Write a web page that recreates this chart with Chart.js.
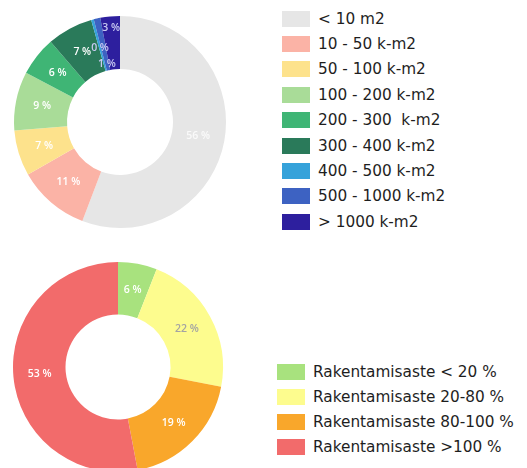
<!DOCTYPE html>
<html>
<head>
<meta charset="utf-8">
<script src="https://cdn.jsdelivr.net/npm/chart.js@4"></script>
<style>
  html, body { margin: 0; padding: 0; background: #fff; overflow: hidden; }
  body { width: 527px; height: 468px; position: relative; }
  .chartBox { position: absolute; }
  .legend { position: absolute; margin: 0; padding: 0; list-style: none;
            font-family: "DejaVu Sans", Verdana, sans-serif; font-size: 15.3px; color: #1e1e1e; }
  .legend li { display: flex; align-items: center; white-space: pre; }
  .legend .swatch { display: inline-block; width: 28px; height: 16px; flex: none; margin-right: 8px; }
  #legend_koko li { height: 25.4px; }
  #legend_rakentamisaste li { height: 25px; }
</style>
</head>
<body>
<div class="chartBox" style="left:0; top:0; width:240px; height:244px;">
  <canvas id="chart_koko"></canvas>
</div>
<ul class="legend" id="legend_koko" style="left:282px; top:6px;"></ul>

<div class="chartBox" style="left:0; top:250px; width:236px; height:234px;">
  <canvas id="chart_rakentamisaste"></canvas>
</div>
<ul class="legend" id="legend_rakentamisaste" style="left:277px; top:359px;"></ul>

<script>
// kokoluokat (top doughnut)
let sizeClasses = ["< 10 m2", "10 - 50 k-m2", "50 - 100 k-m2", "100 - 200 k-m2", "200 - 300  k-m2",
                   "300 - 400 k-m2", "400 - 500 k-m2", "500 - 1000 k-m2", "> 1000 k-m2"];
let sizeShares = [56, 11, 7, 9, 6, 7, 0.4, 1, 3];
let sizeColors = ["#e6e6e6", "#fbb3a6", "#fde28c", "#a9dc98", "#3fb575", "#2a7a5a", "#35a2da", "#3d62c2", "#2d1f9e"];

// rakentamisaste (bottom doughnut)
let buildClasses = ["Rakentamisaste < 20 %", "Rakentamisaste 20-80 %", "Rakentamisaste 80-100 %", "Rakentamisaste >100 %"];
let buildShares = [6, 22, 19, 53];
let buildColors = ["#a8e27e", "#fdfc8e", "#f9a72b", "#f26b6b"];

// percentage labels drawn on the arcs
const arcLabels = {
    id: "arcLabels",
    afterDatasetsDraw(chart, args, opts) {
        const ctx = chart.ctx;
        const meta = chart.getDatasetMeta(0);
        const values = chart.data.datasets[0].data;
        ctx.save();
        ctx.font = "600 10.5px 'Open Sans', sans-serif";
        ctx.textAlign = "center";
        ctx.textBaseline = "middle";
        meta.data.forEach((arc, i) => {
            const p = arc.getProps(["x", "y", "startAngle", "endAngle", "innerRadius", "outerRadius"], true);
            const mid = (p.startAngle + p.endAngle) / 2;
            const frac = opts.radius[i] !== undefined ? opts.radius[i] : 0.5;
            const r = p.innerRadius + (p.outerRadius - p.innerRadius) * frac;
            ctx.fillStyle = opts.colors[i] || "#fff";
            ctx.fillText(Math.round(values[i]) + " %", p.x + r * Math.cos(mid), p.y + r * Math.sin(mid));
        });
        ctx.restore();
    }
};

function buildLegend(chart, listId) {
    const list = document.getElementById(listId);
    const items = chart.options.plugins.legend.labels.generateLabels(chart);
    items.forEach(item => {
        const li = document.createElement("li");
        const sw = document.createElement("span");
        sw.className = "swatch";
        sw.style.background = item.fillStyle;
        const txt = document.createElement("span");
        txt.textContent = item.text;
        li.appendChild(sw);
        li.appendChild(txt);
        list.appendChild(li);
    });
}

const chartKoko = new Chart(document.getElementById("chart_koko"), {
    type: "doughnut",
    data: {
        labels: sizeClasses,
        datasets: [{
            data: sizeShares,
            backgroundColor: sizeColors,
            borderWidth: 0,
        }]
    },
    options: {
        responsive: true,
        maintainAspectRatio: false,
        animation: false,
        cutout: "50%",
        layout: { padding: { left: 14, right: 14, top: 16, bottom: 16 } },
        plugins: {
            legend: { display: false },
            tooltip: { enabled: false },
            arcLabels: {
                radius: { 6: 0.45, 7: 0.13, 8: 0.78 },
                colors: { 0: "#fafafa", 6: "#c9caf2", 7: "#c9caf2", 8: "#c9caf2" },
            },
        }
    },
    plugins: [arcLabels]
});
buildLegend(chartKoko, "legend_koko");

const chartRak = new Chart(document.getElementById("chart_rakentamisaste"), {
    type: "doughnut",
    data: {
        labels: buildClasses,
        datasets: [{
            data: buildShares,
            backgroundColor: buildColors,
            borderWidth: 0,
        }]
    },
    options: {
        responsive: true,
        maintainAspectRatio: false,
        animation: false,
        cutout: "50%",
        layout: { padding: { left: 13, right: 13, top: 12, bottom: 12 } },
        plugins: {
            legend: { display: false },
            tooltip: { enabled: false },
            arcLabels: {
                radius: {},
                colors: { 1: "#a3a3a3" },
            },
        }
    },
    plugins: [arcLabels]
});
buildLegend(chartRak, "legend_rakentamisaste");
</script>
</body>
</html>
